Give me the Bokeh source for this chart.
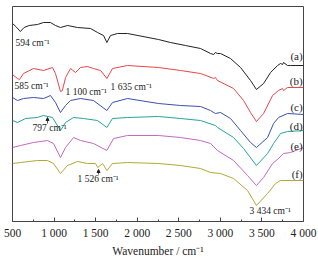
from bokeh.plotting import figure
from bokeh.models import Range1d, FixedTicker, Arrow, NormalHead, Label
from bokeh.embed import file_html
from bokeh.resources import INLINE

# ---- data (wavenumber / cm-1, transmittance offset, arbitrary units) ----
wn_a = [500, 540, 594, 640, 700, 800, 873, 957, 1017, 1077, 1162, 1282, 1438, 1523, 1595, 1635, 1679, 1763, 1883,
        2256, 2400, 2581, 2762, 2882, 2920, 2940, 2966, 3002, 3122, 3243, 3363, 3434, 3520, 3604, 3688, 3724, 3748,
        3760, 3808, 3844, 4000]
t_a = [198, 195, 190, 194, 196, 197, 199, 199, 196, 194, 196, 194, 193, 189, 186, 179, 186, 188, 188,
       182, 179, 176, 173, 168, 167, 169, 168, 168, 163, 154, 141, 132, 138, 149, 156, 158, 157,
       159, 156, 156, 156]

wn_b = [500, 560, 585, 632, 753, 873, 981, 1017, 1077, 1100, 1138, 1198, 1258, 1318, 1402, 1474, 1559, 1635, 1703,
        1883, 2256, 2521, 2762, 2920, 2940, 2966, 3159, 3279, 3363, 3434, 3520, 3628, 3700, 3748, 3760, 3808, 4000]
t_b = [147, 143, 142, 148, 153, 151, 154, 148, 130, 131, 144, 153, 149, 154, 155, 153, 151, 143, 153,
       156, 154, 151, 148, 143, 144, 141, 133, 121, 109, 100, 108, 126, 131, 133, 131, 134, 134]

wn_c = [500, 560, 632, 753, 873, 957, 1017, 1077, 1138, 1198, 1318, 1474, 1635, 1703, 1883, 2256, 2521, 2762,
        2882, 2940, 3002, 3122, 3243, 3363, 3434, 3568, 3640, 3700, 3808, 4000]
t_c = [124, 121, 123, 124, 123, 126, 119, 109, 116, 121, 123, 121, 111, 119, 123, 118, 116, 115,
       111, 108, 109, 103, 91, 79, 74, 84, 98, 104, 108, 107]

wn_d = [500, 560, 656, 800, 873, 981, 1077, 1138, 1234, 1354, 1523, 1635, 1703, 1883, 2256, 2521, 2762, 2940,
        2966, 3159, 3279, 3434, 3568, 3640, 3724, 3808, 4000]
t_d = [101, 99, 103, 104, 106, 104, 91, 99, 104, 103, 101, 94, 103, 104, 105, 103, 101, 96,
       94, 84, 73, 56, 68, 78, 88, 90, 91]

wn_e = [500, 596, 753, 921, 993, 1077, 1138, 1234, 1318, 1474, 1635, 1715, 1883, 2256, 2521, 2762, 2882, 2966,
        3159, 3327, 3434, 3520, 3628, 3700, 3760, 3844, 4000]
t_e = [74, 76, 79, 81, 78, 64, 74, 84, 81, 78, 71, 83, 86, 86, 84, 81, 78, 71,
       61, 46, 36, 44, 58, 63, 68, 69, 74]

wn_f = [500, 596, 800, 921, 993, 1077, 1162, 1282, 1402, 1498, 1526, 1583, 1635, 1703, 1883, 2256, 2521, 2762,
        2882, 3002, 3159, 3327, 3434, 3568, 3664, 3724, 4000]
t_f = [58, 59, 61, 61, 58, 48, 56, 60, 58, 58, 54, 58, 51, 58, 59, 58, 56, 53,
       49, 48, 43, 31, 16, 28, 38, 41, 41]

series_labels = ["(a)", "(b)", "(c)", "(d)", "(e)", "(f)"]
tick_vals = [500, 1000, 1500, 2000, 2500, 3000, 3500, 4000]
tick_labels = ["500", "1 000", "1 500", "2 000", "2 500", "3 000", "3 500", "4 000"]
minor_vals = [750, 1250, 1750, 2250, 2750, 3250, 3750]

colors = ["#222222", "#e8454c", "#3b4fae", "#25a597", "#c468c4", "#b0a934"]
series = [(wn_a, t_a), (wn_b, t_b), (wn_c, t_c), (wn_d, t_d), (wn_e, t_e), (wn_f, t_f)]

FONT = "Liberation Serif"

p = figure(width=318, height=260, output_backend="svg", toolbar_location=None,
           x_range=Range1d(500, 4000), y_range=Range1d(0, 215),
           min_border_left=12, min_border_right=15, min_border_top=6, min_border_bottom=39)
p.grid.visible = False
p.yaxis.visible = False
p.outline_line_color = "#444444"
p.outline_line_width = 1
p.background_fill_color = "white"
p.border_fill_color = "white"

xa = p.xaxis[0]
xa.ticker = FixedTicker(ticks=tick_vals, minor_ticks=minor_vals)
xa.major_label_overrides = {v: l for v, l in zip(tick_vals, tick_labels)}
xa.major_tick_in = 4
xa.major_tick_out = 0
xa.minor_tick_in = 2
xa.minor_tick_out = 0
xa.axis_line_color = "#444444"
xa.major_tick_line_color = "#444444"
xa.minor_tick_line_color = "#444444"
xa.major_label_text_font = FONT
xa.major_label_text_font_size = "11.5px"
xa.major_label_text_color = "#222222"
xa.major_label_standoff = 5
xa.axis_label = "Wavenumber / cm\u207b\u00b9"
xa.axis_label_text_font = FONT
xa.axis_label_text_font_size = "11.5px"
xa.axis_label_text_font_style = "normal"
xa.axis_label_text_color = "#222222"
xa.axis_label_standoff = 3

for (x, y), c in zip(series, colors):
    p.line(x, y, line_color=c, line_width=1)

# series labels at right
lab_y = [166, 141, 115, 96, 76, 48]
for txt, yy in zip(series_labels, lab_y):
    p.add_layout(Label(x=3990, y=yy, text=txt, text_align="right", text_baseline="middle",
                       text_font=FONT, text_font_size="11px", text_color="#222222"))

ann = [
    ("594 cm\u207b\u00b9", 536, 179),
    ("585 cm\u207b\u00b9", 524, 136),
    ("1 100 cm\u207b\u00b9", 1138, 130),
    ("1 635 cm\u207b\u00b9", 1679, 135),
    ("797 cm\u207b\u00b9", 741, 94),
    ("1 526 cm\u207b\u00b9", 1282, 43),
    ("3 434 cm\u207b\u00b9", 3351, 11),
]
for txt, xx, yy in ann:
    p.add_layout(Label(x=xx, y=yy, text=txt, text_align="left", text_baseline="middle",
                       text_font=FONT, text_font_size="9.5px", text_color="#222222"))

for xs, ys, ye in [(921, 98, 104), (1535, 47, 52)]:
    p.add_layout(Arrow(end=NormalHead(size=3, fill_color="#222222", line_color="#222222"),
                       x_start=xs, y_start=ys, x_end=xs, y_end=ye,
                       line_color="#222222", line_width=0.8))

open("out.html", "w").write(file_html(p, INLINE))
